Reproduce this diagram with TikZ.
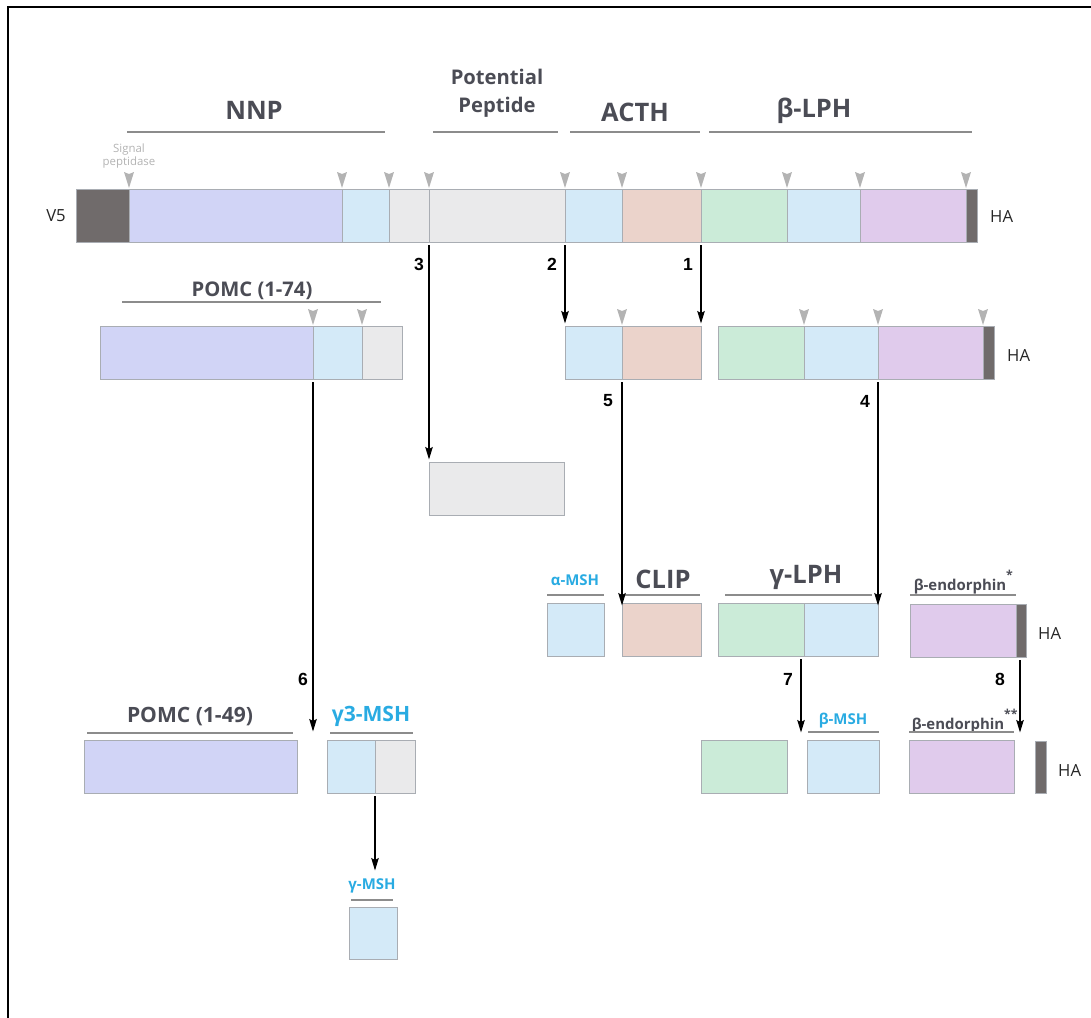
\documentclass[tikz,border=0pt]{standalone}
\usepackage{fontspec}
\setmainfont{Open Sans}
\newfontfamily\numfont{Liberation Sans}
\usetikzlibrary{arrows.meta}

\definecolor{hadark}{HTML}{706B6B}
\definecolor{nnpcol}{HTML}{D1D4F6}
\definecolor{mshcol}{HTML}{D4EAF8}
\definecolor{ppcol}{HTML}{EAEAEB}
\definecolor{clipcol}{HTML}{EBD3CB}
\definecolor{lphcol}{HTML}{CBEBD8}
\definecolor{endcol}{HTML}{E0CBEC}
\definecolor{txtgrey}{HTML}{4B4C55}
\definecolor{mshblue}{HTML}{29ABE2}
\definecolor{cutgrey}{HTML}{B3B3B3}
\definecolor{linegrey}{HTML}{8C8C8C}
\definecolor{boxgrey}{HTML}{A9ADB3}

% one segment of a bar: name, x1, x2, y1, y2, colour
\newcommand{\seg}[6]{%
  \node[segbox, fill=#6, minimum width={(#3-#2)*0.02cm}, minimum height={(#5-#4)*0.02cm}] (#1) at (#2,#4) {};}
\newcommand{\stars}[1]{\rlap{\raisebox{1.35ex}{\fontsize{7}{7}\selectfont #1}}}

\tikzset{
  segbox/.style={draw=boxgrey, line width=0.5pt, anchor=north west, inner sep=0pt, outer sep=0pt},
  title/.style={font=\bfseries\fontsize{14.5}{16}\selectfont, text=txtgrey},
  subtitle/.style={font=\bfseries\fontsize{11.5}{16}\selectfont, text=txtgrey},
  small/.style={font=\bfseries\fontsize{8.5}{10}\selectfont, text=txtgrey},
  msh/.style={text=mshblue},
  step num/.style={font=\numfont\bfseries\fontsize{10}{12}\selectfont},
  tag/.style={font=\fontsize{9.5}{11}\selectfont, text=black!85},
  labline/.style={draw=linegrey, line width=0.6pt},
  flow/.style={-{Stealth[length=2.5mm,width=1.5mm,inset=0.4mm]}, line width=0.7pt, shorten <=0.06cm, shorten >=0.05cm},
  cutmark/.pic={\fill[cutgrey] (-5,-17) -- (0,-15) -- (5,-17) -- (0,-1) -- cycle;}
}

\begin{document}
\begin{tikzpicture}[x=0.02cm, y=-0.02cm]
\useasboundingbox (0,0) rectangle (1091,1017);
\draw[line width=1.2pt] (8,1040) -- (8,7) -- (1110,7);

% full length POMC
\seg{v5}{76}{129}{189}{242}{hadark}
\seg{nnp}{129}{342}{189}{242}{nnpcol}
\seg{gmsh}{342}{389}{189}{242}{mshcol}
\seg{jp}{389}{429}{189}{242}{ppcol}
\seg{pot}{429}{565}{189}{242}{ppcol}
\seg{amsh}{565}{622}{189}{242}{mshcol}
\seg{clip}{622}{701}{189}{242}{clipcol}
\seg{glph}{701}{787}{189}{242}{lphcol}
\seg{bmsh}{787}{860}{189}{242}{mshcol}
\seg{bend}{860}{966}{189}{242}{endcol}
\seg{ha}{966}{977}{189}{242}{hadark}
\foreach \n in {nnp,gmsh,jp,pot,amsh,clip,glph,bmsh,bend,ha}
  \path (\n.north west) pic {cutmark};
\node[tag, anchor=east] (v5t) at (72,216) {V5};
\node[tag, anchor=west] (hat) at (984,217) {HA};
\node[font=\fontsize{6.5}{7.5}\selectfont, text=cutgrey, align=center] (sig) at (129,156) {Signal\\peptidase};

\node[title] (nnpT) at (254,110) {NNP};
\draw[labline] (127,132) -- (385,132);
\node[subtitle, align=center] (potT) at (497,93) {Potential\\Peptide};
\draw[labline] (433,132) -- (558,132);
\node[title] (acthT) at (635,112) {ACTH};
\draw[labline] (570,132) -- (700,132);
\node[title] (blphT) at (814,111) {β-LPH};
\draw[labline] (709,132) -- (972,132);

% second row
\seg{pnnp}{100}{313}{326}{379}{nnpcol}
\seg{pgmsh}{313}{362}{326}{379}{mshcol}
\seg{pjp}{362}{402}{326}{379}{ppcol}
\seg{aamsh}{565}{622}{326}{379}{mshcol}
\seg{aclip}{622}{701}{326}{379}{clipcol}
\seg{lglph}{718}{804}{326}{379}{lphcol}
\seg{lbmsh}{804}{878}{326}{379}{mshcol}
\seg{lbend}{878}{983}{326}{379}{endcol}
\seg{lha}{983}{994}{326}{379}{hadark}
\foreach \n in {pgmsh,pjp,aclip,lbmsh,lbend,lha}
  \path (\n.north west) pic {cutmark};
\node[tag, anchor=west] (lhat) at (1001,356) {HA};
\node[subtitle] (pomcA) at (252,291) {POMC (1-74)};
\draw[labline] (122,302) -- (381,302);

% potential peptide
\seg{ppep}{429}{564}{462}{515}{ppcol}

% third row
\seg{ramsh}{547}{604}{603}{656}{mshcol}
\seg{rclip}{622}{701}{603}{656}{clipcol}
\seg{rglph}{718}{804}{603}{656}{lphcol}
\seg{rbmsh}{804}{878}{603}{656}{mshcol}
\seg{rbend}{910}{1016}{604}{657}{endcol}
\seg{rha}{1016}{1026}{604}{657}{hadark}
\node[tag, anchor=west] (rhat) at (1032,634) {HA};
\node[small, msh] (amshT) at (575,580) {α-MSH};
\draw[labline] (547,595) -- (604,595);
\node[title] (clipT) at (663,579) {CLIP};
\draw[labline] (624,595) -- (700,595);
\node[title] (glphT) at (806,577) {γ-LPH};
\draw[labline] (725,595) -- (872,595);
\node[small] (bendT) at (960,582) {β-endorphin\stars{*}};
\draw[labline] (910,595) -- (1016,595);

% fourth row
\seg{fnnp}{84}{297}{740}{793}{nnpcol}
\seg{fgmsh}{327}{375}{740}{793}{mshcol}
\seg{fjp}{375}{415}{740}{793}{ppcol}
\seg{fglph}{701}{787}{740}{793}{lphcol}
\seg{fbmsh}{807}{879}{740}{793}{mshcol}
\seg{fbend}{909}{1014}{740}{793}{endcol}
\seg{fha}{1035}{1046}{741}{793}{hadark}
\node[tag, anchor=west] (fhat) at (1052,771) {HA};
\node[title, font=\bfseries\fontsize{12}{14}\selectfont] (pomcB) at (190,717) {POMC (1-49)};
\draw[labline] (87,733) -- (293,733);
\node[title, msh, font=\bfseries\fontsize{12}{14}\selectfont] (g3T) at (371,716) {γ3-MSH};
\draw[labline] (330,733) -- (413,733);
\node[small, msh] (bmshT) at (843,721) {β-MSH};
\draw[labline] (808,732) -- (879,732);
\node[small] (bend2T) at (958,721) {β-endorphin\stars{**}};
\draw[labline] (909,732) -- (1014,732);

% gamma-MSH
\seg{gfin}{349}{397}{907}{959}{mshcol}
\node[small, msh] (gmshT) at (372,886) {γ-MSH};
\draw[labline] (351,900) -- (393,900);

% cleavage steps
\coordinate (c6) at (313,734);
\coordinate (c7) at (801,735);
\coordinate (c8) at (1020,735);
\coordinate (c9) at (375,873);
\draw[flow] (pot.south west) -- (ppep.north west);
\draw[flow] (amsh.south west) -- (aamsh.north west);
\draw[flow] (clip.south east) -- (aclip.north east);
\draw[flow] (aclip.south west) -- ([yshift=-0.1cm]rclip.north west);
\draw[flow] (lbmsh.south east) -- ([yshift=-0.1cm]rbmsh.north east);
\draw[flow] (pgmsh.south west) -- (c6);
\draw[flow] (rglph.south east -| c7) -- (c7);
\draw[flow] (rha.south -| c8) -- (c8);
\draw[flow] (fgmsh.south east) -- (c9);
\node[step num] (n3) at (419,264) {3};
\node[step num] (n2) at (552,264) {2};
\node[step num] (n1) at (688,264) {1};
\node[step num] (n5) at (608,401) {5};
\node[step num] (n4) at (865,401) {4};
\node[step num] (n6) at (303,679) {6};
\node[step num] (n7) at (788,679) {7};
\node[step num] (n8) at (1000,679) {8};
\end{tikzpicture}
\end{document}
